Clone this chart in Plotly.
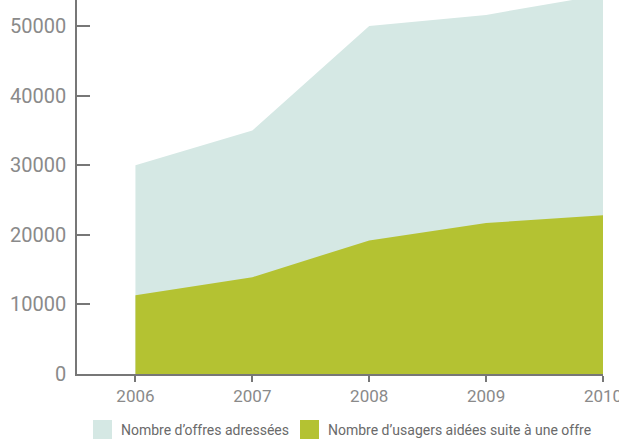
import plotly.graph_objects as go

years = [2006, 2007, 2008, 2009, 2010]
offres = [30000, 35000, 50000, 51600, 54500]
usagers = [11300, 13900, 19200, 21700, 22800]
y_ticks = [0, 10000, 20000, 30000, 40000, 50000]
legend_labels = ["Nombre d’offres adressées", "Nombre d’usagers aidées suite à une offre"]
colors = ["#d5e8e4", "#b4c232"]

W, H = 619, 439
L, R, T, B = 77, 16, 0, 65
pw, ph = W - L - R, H - T - B

fig = go.Figure()
fig.add_trace(go.Scatter(x=years, y=offres, fill="tozeroy", mode="none",
                         fillcolor=colors[0], name=legend_labels[0], showlegend=False,
                         hoverinfo="skip"))
fig.add_trace(go.Scatter(x=years, y=usagers, fill="tozeroy", mode="none",
                         fillcolor=colors[1], name=legend_labels[1], showlegend=False,
                         hoverinfo="skip"))

def px_x(p):
    return (p - L) / pw

def px_y(p):
    return (H - B - p) / ph

# legend as shapes + annotations
leg = [(93, 119), (300, 326)]
for (sx, tx), lab, col in zip(leg, legend_labels, colors):
    fig.add_shape(type="rect", xref="paper", yref="paper",
                  x0=px_x(sx), x1=px_x(sx + 19), y0=px_y(439), y1=px_y(420),
                  fillcolor=col, line_width=0)
    fig.add_annotation(xref="paper", yref="paper", x=px_x(tx), y=px_y(430),
                       text=lab, showarrow=False, xanchor="left", yanchor="middle",
                       font=dict(family="Roboto", size=14, color="#6a6a6a"))

fig.update_layout(
    width=W, height=H,
    margin=dict(l=L, r=R, t=T, b=B, autoexpand=False),
    plot_bgcolor="white", paper_bgcolor="white",
    showlegend=False,
    xaxis=dict(range=[2005.5, 2010], tickvals=years, ticktext=[str(y) for y in years],
               automargin=False, ticklabeloverflow="allow",
               showgrid=False, zeroline=False, showline=True, linecolor="#777777", linewidth=1.5,
               ticks="outside", ticklen=6, tickcolor="#777777", tickwidth=1.5,
               tickfont=dict(family="Roboto", size=17, color="#8a8a8a")),
    yaxis=dict(range=[0, 53740], tickvals=y_ticks, ticktext=[str(v) for v in y_ticks],
               automargin=False, showgrid=False, zeroline=False,
               showline=True, linecolor="#777777", linewidth=1.5,
               ticks="inside", ticklen=13, tickcolor="#777777", tickwidth=1.5,
               ticklabelstandoff=5,
               tickfont=dict(family="Roboto", size=20, color="#8a8a8a")),
)

fig.write_html("out.html", config={"displayModeBar": False},
               post_script="document.body.style.margin='0';document.body.style.overflow='hidden';")
